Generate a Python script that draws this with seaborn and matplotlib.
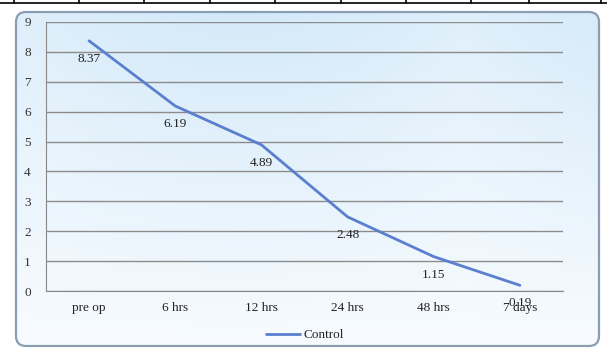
import seaborn as sns
import matplotlib.pyplot as plt
from matplotlib.patches import FancyBboxPatch
import pandas as pd
import numpy as np

sns.set_style("white")
plt.rcParams['font.family'] = ['Liberation Serif', 'DejaVu Serif']

# Data
time_points = ['pre op', '6 hrs', '12 hrs', '24 hrs', '48 hrs', '7 days']
control = [8.37, 6.19, 4.89, 2.48, 1.15, 0.19]
y_ticks = list(range(0, 10))

df = pd.DataFrame({'Time': time_points, 'Control': control})
df['pos'] = range(len(df))

W, H = 607, 350
fig = plt.figure(figsize=(W / 100, H / 100), dpi=100)
fig.patch.set_facecolor('white')

# background panel with soft blue gradient and rounded border
bg = fig.add_axes([0, 0, 1, 1])
bg.set_xlim(0, W)
bg.set_ylim(H, 0)
bg.axis('off')
gx = np.linspace(0, 1, 200)
gy = np.linspace(0, 1, 120)
GX, GY = np.meshgrid(gx, gy)
shade = 0.55 * (1 - GY) + 0.25 * np.abs(np.sin(GX * np.pi * 1.3)) * (1 - GY)
shade = np.clip(shade, 0, 1)
top = np.array([0.80, 0.90, 0.97])
white = np.array([0.97, 0.985, 1.0])
img = white[None, None, :] * (1 - shade[..., None]) + top[None, None, :] * shade[..., None]
panel = FancyBboxPatch((16, 12), 583, 334, boxstyle="round,pad=0,rounding_size=10",
                       facecolor='none', edgecolor='#8a9db3', linewidth=1.6, zorder=3)
im = bg.imshow(img, extent=(16, 599, 346, 12), aspect='auto', zorder=1)
bg.add_patch(panel)
im.set_clip_path(panel)

# cropped table row at top of the picture
bg.plot([0, W], [3, 3], color='black', lw=1.2, zorder=4)
for xv in [14, 79, 144, 210, 275, 341, 406, 471, 529, 601]:
    bg.plot([xv, xv], [0, 3], color='black', lw=1.2, zorder=4)

# main plot
ax = fig.add_axes([46 / W, 1 - 291 / H, (563 - 46) / W, (291 - 22) / H])
ax.patch.set_alpha(0)
sns.lineplot(data=df, x='pos', y='Control', ax=ax, color='#5b7fcf', lw=2.0,
             label='Control', legend=False, zorder=3)

for i, v in enumerate(control):
    ax.annotate(f'{v:.2f}', (i, v), xytext=(0, -13), textcoords='offset points',
                ha='center', va='center', fontsize=9.5, color='#222222')

ax.set_xlim(-0.5, len(time_points) - 0.5)
ax.set_ylim(0, 9)
ax.set_yticks(y_ticks)
ax.set_yticklabels([str(t) for t in y_ticks], fontsize=9.5, color='#333333')
ax.set_xticks(range(len(time_points)))
ax.set_xticklabels(time_points, fontsize=9.5, color='#222222')
ax.tick_params(axis='x', length=0, pad=8)
ax.tick_params(axis='y', length=3, color='#888888', pad=8)
ax.set_xticks(np.arange(-0.5, len(time_points), 1), minor=True)
ax.tick_params(axis='x', which='minor', length=4, color='#888888', direction='out')
ax.grid(axis='y', color='#8c8c8c', lw=1)
ax.set_axisbelow(True)
ax.set_xlabel('')
ax.set_ylabel('')
for s in ['top', 'right']:
    ax.spines[s].set_visible(False)
ax.spines['left'].set_color('#888888')
ax.spines['bottom'].set_color('#888888')

handles, labels = ax.get_legend_handles_labels()
leg = fig.legend(handles, labels, loc='center', bbox_to_anchor=(305 / W, 1 - 335 / H),
                 frameon=False, fontsize=9.5, handlelength=2.6, handletextpad=0.3)

fig.savefig('out.png', dpi=100)
plt.close(fig)
